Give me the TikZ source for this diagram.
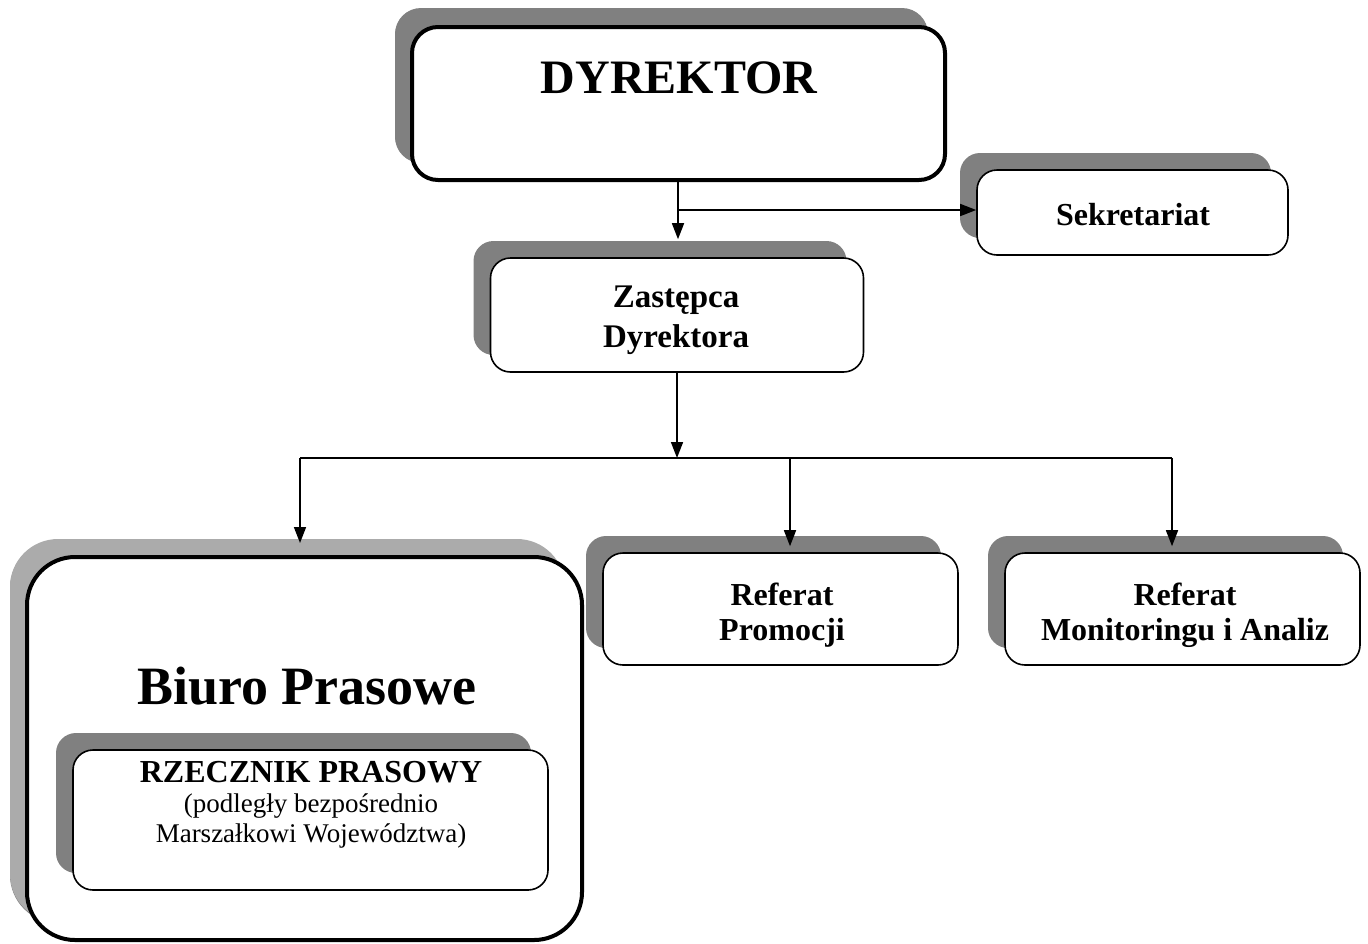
\documentclass[tikz,border=0pt]{standalone}
\usepackage{fontspec}
\setmainfont{Liberation Serif}
\usetikzlibrary{arrows.meta,shadows}
\definecolor{shade}{gray}{0.5}
\definecolor{lightshade}{gray}{0.67}
\tikzset{
  unit/.style={draw, fill=white, rounded corners=10pt, line width=0.8pt, inner sep=0pt,
    drop shadow={shadow xshift=-8.5pt, shadow yshift=8.5pt, fill=shade, opacity=1}},
  bigunit/.style={unit, line width=2pt, rounded corners=13pt},
  label/.style={align=center, inner sep=0pt, font=\bfseries\fontsize{16}{17.5}\selectfont},
  conn/.style={line width=0.8pt, -{Triangle[length=8pt,width=6pt]}},
  wire/.style={line width=0.8pt},
}
\begin{document}
\begin{tikzpicture}[x=0.5pt, y=-0.5pt]
\useasboundingbox (0,0) rectangle (1368,943);

% boxes
\node[bigunit, minimum width=266.5pt, minimum height=76.5pt,
  drop shadow={shadow xshift=-8.5pt, shadow yshift=9.5pt, fill=shade, opacity=1}] (dyr) at (678.5,103.5) {};
\node[label, font=\bfseries\fontsize{24}{28}\selectfont] (dyrtxt) at (679,78) {DYREKTOR};

\node[unit, minimum width=155.5pt, minimum height=42.5pt] (sekr) at (1132.5,212.5) {};
\node[label] (sekrtxt) at (1133,215) {Sekretariat};

\node[unit, minimum width=186.5pt, minimum height=57pt] (zast) at (677,315) {};
\node[label, font=\bfseries\fontsize{16.5}{20}\selectfont] (zasttxt) at (676,320) {Zastępca\\Dyrektora};

\node[unit, minimum width=177.5pt, minimum height=56pt] (prom) at (780.5,609) {};
\node[label] (promtxt) at (782,615) {Referat\\Promocji};
\node[unit, minimum width=177.5pt, minimum height=56pt] (mon) at (1182.5,609) {};
\node[label] (montxt) at (1185,615) {Referat\\Monitoringu i Analiz};

\node[bigunit, rounded corners=24pt, minimum width=277.5pt, minimum height=191.5pt,
  drop shadow={shadow xshift=-8.5pt, shadow yshift=9pt, fill=lightshade, opacity=1}] (biuro) at (304.5,748.5) {};
\node[label, font=\bfseries\fontsize{27}{30}\selectfont] (biurotxt) at (307,686) {Biuro Prasowe};
\node[unit, minimum width=237.5pt, minimum height=70pt] (rzecz) at (310.5,820) {};
\node[label, anchor=north, font=\fontsize{13.5}{15}\selectfont] (rzecztxt) at (311,761)
  {{\bfseries\fontsize{16}{17}\selectfont RZECZNIK PRASOWY}\\(podległy bezpośrednio\\Marszałkowi Województwa)};

% connectors
\coordinate (sek) at (678,210);
\coordinate (hub) at (677,458);
\coordinate (bl) at (300,458);
\coordinate (bm) at (790,458);
\coordinate (br) at (1172,458);

\draw[conn, shorten >=9pt] (dyr.south -| sek) -- (sek |- zast.north);
\draw[conn] (sek) -- (sek -| sekr.west);
\draw[conn] (zast.south -| hub) -- (hub);
\draw[wire] (bl) -- (br);
\draw[conn, shorten >=6pt] (bl) -- (bl |- biuro.north);
\draw[conn, shorten >=3pt] (bm) -- (bm |- prom.north);
\draw[conn, shorten >=3pt] (br) -- (br |- mon.north);

\end{tikzpicture}
\end{document}
